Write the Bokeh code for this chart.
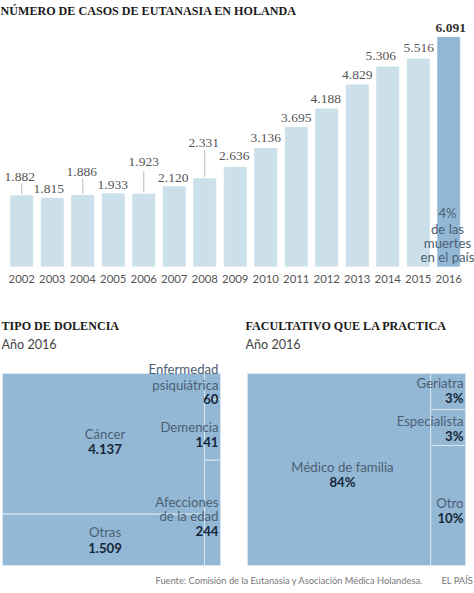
from bokeh.embed import file_html
from bokeh.resources import INLINE
from bokeh.core.properties import field
from bokeh.models import ColumnDataSource, Label, Range1d, FixedTicker
from bokeh.plotting import figure
from bokeh.layouts import column, row

years = [2002,2003,2004,2005,2006,2007,2008,2009,2010,2011,2012,2013,2014,2015,2016]
cases = [1882,1815,1886,1933,1923,2120,2331,2636,3136,3695,4188,4829,5306,5516,6091]
case_labels = ["1.882","1.815","1.886","1.933","1.923","2.120","2.331","2.636","3.136","3.695","4.188","4.829","5.306","5.516","6.091"]

illness_main = ["Cáncer","Otras"]
illness_main_values = [4137,1509]
illness_side = ["Enfermedad psiquiátrica","Demencia","Afecciones de la edad"]
illness_side_values = [60,141,244]
doctor_main = ["Médico de familia"]
doctor_main_values = [84]
doctor_side = ["Geriatra","Especialista","Otro"]
doctor_side_values = [3,3,10]

# label placement (pixels), separate from the values
label_rise = [19,9,24,9,32,8.5,36,11,11,10,10.5,10,11,11.5,9]
label_shift = [-2,-3.5,-1,-0.5,0,-1,-1,-1,0,0,-1,0,-7,0.5,2]
leader_years = [2002,2004,2006,2008]
leader_base = [1882,1886,1923,2331]
leader_len = [320,450,610,770]

LIGHT="#cbe0ea"; DARK="#93b8d5"; RULE="#d6e6f2"
SANS="Lato"; SERIF="Liberation Serif"
GREY="#555555"; INK="#16263a"; NOTE="#4c6074"
W=474
H1=300; H2=272; H3=21
HEAD=12.1; BODY=13.2

def put(p, H, text, x, y, size=BODY, color=GREY, style="normal", font=SANS, align="left"):
    p.add_layout(Label(x=x, y=H-y+1, x_units="screen", y_units="screen", text=text, text_font=font,
                       text_font_size=f"{size}px", text_color=color, text_font_style=style,
                       text_align=align, text_baseline="middle"))

STEP=30.5; FIRST=21.25
FH=266
bars = figure(width=W, height=H1, output_backend="svg", toolbar_location=None,
              x_range=Range1d(2002-FIRST/STEP, 2002+(W-FIRST)/STEP), y_range=Range1d(0,FH/0.0376),
              min_border_left=0, min_border_right=0, min_border_top=0, min_border_bottom=34,
              frame_width=W, frame_height=FH)
bars.outline_line_color=None; bars.background_fill_color=None; bars.border_fill_color=None
bars.xgrid.visible=False; bars.ygrid.visible=False; bars.yaxis.visible=False
ax=bars.xaxis[0]
ax.ticker=FixedTicker(ticks=years)
ax.axis_line_color=None; ax.major_tick_line_color=None; ax.minor_tick_line_color=None
ax.major_label_text_font=SANS; ax.major_label_text_font_size="11.4px"; ax.major_label_text_color=GREY
ax.major_label_standoff=2
src=ColumnDataSource(dict(year=years,cases=cases,label=case_labels,
        color=[LIGHT]*14+[DARK], rise=[-r for r in label_rise], shift=label_shift,
        weight=["normal"]*14+["bold"], tc=[GREY]*14+["#333333"]))
bars.vbar(x="year",top="cases",width=0.72,color="color",source=src)
bars.segment(x0=leader_years,x1=leader_years,y0=[b+50 for b in leader_base],
             y1=[b+l for b,l in zip(leader_base,leader_len)],line_color="#bdbdbd",line_width=1)
bars.text(x="year",y="cases",text="label",source=src,x_offset="shift",y_offset="rise",text_align="center",
          text_baseline="middle",text_font=SANS,text_font_size="13.5px",text_color="tc",text_font_style=field("weight"))
put(bars,FH,"NÚMERO DE CASOS DE EUTANASIA EN HOLANDA",0,11,HEAD,"#1a1a1a","bold",SERIF)
for t,y in zip(["4%","de las","muertes","en el país"],[213,229,243,257]):
    put(bars,FH,t,447,y,BODY,NOTE,align="center")

def tree(main_v, side_v, w, left):
    total=sum(main_v)+sum(side_v); msum=sum(main_v); ssum=sum(side_v)
    k=total/218
    top=373-300
    p=figure(width=w, height=H2, output_backend="svg", toolbar_location=None,
             x_range=Range1d(-left*k,(w-left)*k), y_range=Range1d((H2-top)/192,-top/192),
             min_border_left=0, min_border_right=0, min_border_top=0, min_border_bottom=0,
             frame_width=w, frame_height=H2)
    p.outline_line_color=None; p.background_fill_color=None; p.border_fill_color=None
    p.xgrid.visible=False; p.ygrid.visible=False; p.xaxis.visible=False; p.yaxis.visible=False
    t=0; L=[];R=[];T=[];B=[]
    for v in main_v:
        L.append(0);R.append(msum);T.append(t/msum);B.append((t+v)/msum);t+=v
    t=0
    for v in side_v:
        L.append(msum);R.append(total);T.append(t/ssum);B.append((t+v)/ssum);t+=v
    p.quad(left=L,right=R,top=T,bottom=B,fill_color=DARK,line_color=RULE,line_width=1)
    return p

WL=237; WR=W-WL
left=tree(illness_main_values,illness_side_values,WL,2)
right=tree(doctor_main_values,doctor_side_values,WR,10)

def o(y): return y-300
put(left,H2,"TIPO DE DOLENCIA",1,o(326),HEAD,"#1a1a1a","bold",SERIF)
put(left,H2,"Año 2016",1,o(345),12.6,"#444444")
for t,y,s in [("Enfermedad",369,0),("psiquiátrica",385,0),("60",399,1),("Demencia",427,0),("141",442,1),
              ("Afecciones",502,0),("de la edad",516,0),("244",531,1)]:
    put(left,H2,t,218,o(y),BODY,INK if s else NOTE,"bold" if s else "normal",align="right")
for t,y,s in [("Cáncer",434,0),("4.137",449,1),("Otras",532,0),("1.509",548,1)]:
    put(left,H2,t,104.5,o(y),BODY,INK if s else NOTE,"bold" if s else "normal",align="center")

put(right,H2,"FACULTATIVO QUE LA PRACTICA",8,o(326),HEAD,"#1a1a1a","bold",SERIF)
put(right,H2,"Año 2016",8,o(345),12.6,"#444444")
for t,y,s in [("Geriatra",383,0),("3%",398,1),("Especialista",421,0),("3%",436,1),("Otro",503,0),("10%",518,1)]:
    put(right,H2,t,226,o(y),BODY,INK if s else NOTE,"bold" if s else "normal",align="right")
for t,y,s in [("Médico de familia",467,0),("84%",482,1)]:
    put(right,H2,t,105,o(y),BODY,INK if s else NOTE,"bold" if s else "normal",align="center")

foot=figure(width=W,height=H3,output_backend="svg",toolbar_location=None,x_range=Range1d(0,W),y_range=Range1d(0,H3),
            min_border_left=0,min_border_right=0,min_border_top=0,min_border_bottom=0,frame_width=W,frame_height=H3)
foot.outline_line_color=None; foot.background_fill_color=None; foot.border_fill_color=None
foot.xgrid.visible=False; foot.ygrid.visible=False; foot.xaxis.visible=False; foot.yaxis.visible=False
put(foot,H3,"Fuente: Comisión de la Eutanasia y Asociación Médica Holandesa.",155,9,9.3,"#777777")
put(foot,H3,"EL PAÍS",441,9,9.3,"#777777")

page=column(bars,row(left,right,spacing=0),foot,spacing=0)
open("out.html","w").write(file_html(page,INLINE))
